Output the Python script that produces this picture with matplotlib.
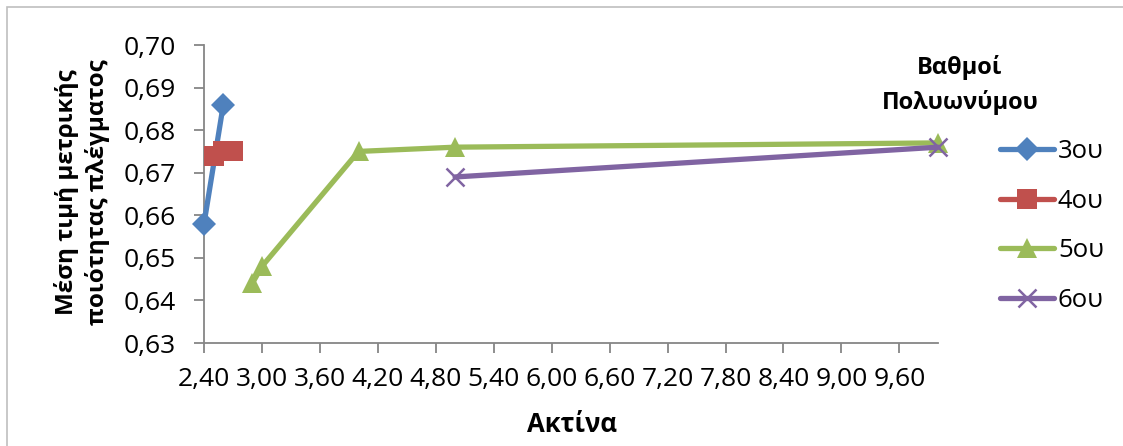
import matplotlib.pyplot as plt
from matplotlib.patches import Rectangle
from matplotlib.lines import Line2D

plt.rcParams['font.family'] = ['Open Sans', 'DejaVu Sans']

# data
x_3 = [2.40, 2.60]
y_3 = [0.658, 0.686]
x_4 = [2.50, 2.60, 2.70]
y_4 = [0.674, 0.675, 0.675]
x_5 = [2.90, 3.00, 4.00, 5.00, 10.00]
y_5 = [0.644, 0.648, 0.675, 0.676, 0.677]
x_6 = [5.00, 10.00]
y_6 = [0.669, 0.676]

x_ticks = [2.40, 3.00, 3.60, 4.20, 4.80, 5.40, 6.00, 6.60, 7.20, 7.80, 8.40, 9.00, 9.60]
y_ticks = [0.63, 0.64, 0.65, 0.66, 0.67, 0.68, 0.69, 0.70]
series_names = ["3ου", "4ου", "5ου", "6ου"]

colors = ["#4F81BD", "#C0504D", "#9BBB59", "#8064A2"]
markers = ["D", "s", "^", "x"]
msizes = [12, 14, 15, 13]

fig = plt.figure(figsize=(11.23, 4.46), dpi=100)
ax = fig.add_axes([204 / 1123, 1 - 343 / 446, (938 - 204) / 1123, (343 - 45) / 446])

data = [(x_3, y_3), (x_4, y_4), (x_5, y_5), (x_6, y_6)]
for (xs, ys), c, m, ms, name in zip(data, colors, markers, msizes, series_names):
    ax.plot(xs, ys, color=c, lw=3.8, marker=m, markersize=ms,
            markeredgewidth=1.8 if m == "x" else 0, solid_capstyle="round",
            label=name, clip_on=False, zorder=3)

ax.set_xlim(2.4, 10.0)
ax.set_ylim(0.63, 0.70)
ax.set_xticks(x_ticks)
ax.set_yticks(y_ticks)
ax.set_xticklabels([f"{v:.2f}".replace(".", ",") for v in x_ticks])
ax.set_yticklabels([f"{v:.2f}".replace(".", ",") for v in y_ticks])
ax.tick_params(labelsize=19, colors="#868686", labelcolor="black",
               length=7, width=1.3, direction="out")
ax.tick_params(axis="x", pad=10)
ax.tick_params(axis="y", pad=13)

for s in ["top", "right"]:
    ax.spines[s].set_visible(False)
for s in ["left", "bottom"]:
    ax.spines[s].set_color("#868686")
    ax.spines[s].set_linewidth(1.3)

fig.text(82 / 1123, 1 - 192 / 446, "Μέση τιμή μετρικής\nποιότητας πλέγματος",
         rotation=90, ha="center", va="center", fontsize=17.5, fontweight="bold",
         linespacing=1.3)
fig.text(572 / 1123, 1 - 425 / 446, "Ακτίνα", ha="center", va="center",
         fontsize=18.5, fontweight="bold")
fig.text(960 / 1123, 1 - 85 / 446, "Βαθμοί\nΠολυωνύμου", ha="center", va="center",
         fontsize=17, fontweight="bold", linespacing=1.55)

handles = [Line2D([], [], color=c, lw=3.8, marker=m, markersize=ms,
                  markeredgewidth=1.8 if m == "x" else 0, solid_capstyle="round")
           for c, m, ms in zip(colors, markers, msizes)]
fig.legend(handles, series_names, loc="upper left",
           bbox_to_anchor=(1000 / 1123, 1 - 139 / 446), frameon=False,
           fontsize=18.5, handlelength=2.1, handletextpad=0.15, labelspacing=0.96,
           borderaxespad=0, borderpad=0)

# light outer border of the chart area (right/bottom cut off in the reference)
fig.patches.append(Rectangle((7 / 1123, -0.1), 1.2, 1 - 7 / 446 + 0.1,
                             transform=fig.transFigure, fill=False,
                             edgecolor="#BFBFBF", lw=1.2))

fig.savefig("out.png", dpi=100)
